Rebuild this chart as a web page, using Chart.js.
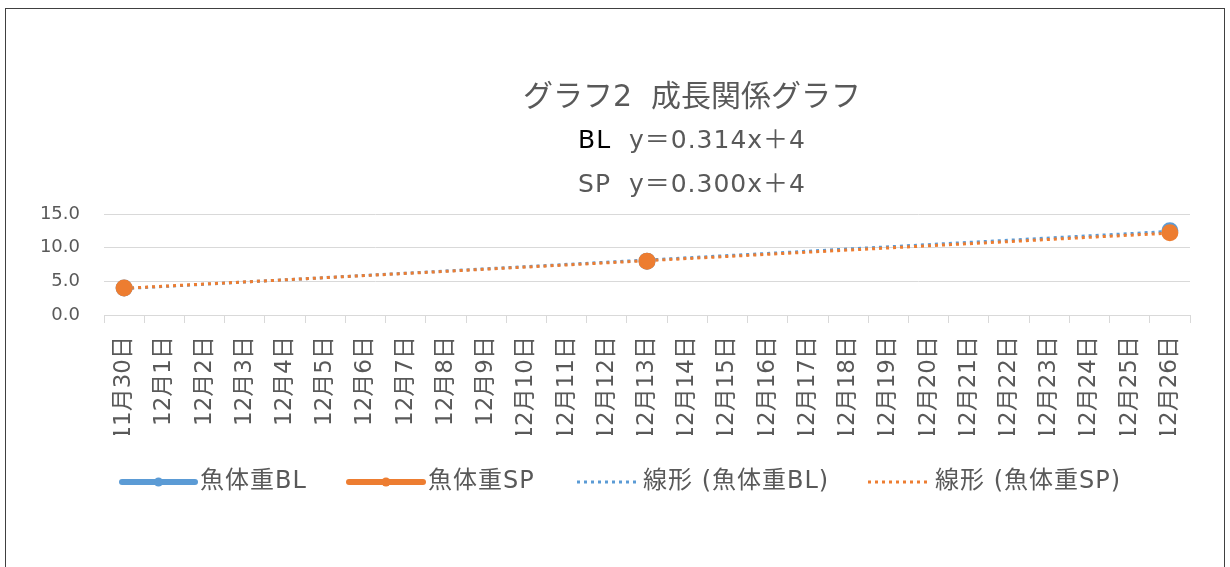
<!DOCTYPE html>
<html>
<head>
<meta charset="utf-8">
<script src="https://cdn.jsdelivr.net/npm/chart.js@4.4.1/dist/chart.umd.min.js"></script>
<style>
    html, body { margin: 0; padding: 0; background: #fff; }
    #wrap { position: relative; width: 1230px; height: 567px; overflow: hidden; }
    #frame { position: absolute; left: 5px; top: 8px; width: 1220px; height: 620px; border: 1px solid #404040; box-sizing: border-box; }
    canvas { position: absolute; left: 0; top: 0; }
</style>
</head>
<body>
<div id="wrap">
    <div id="frame"></div>
    <canvas id="chart" width="1230" height="567"></canvas>
</div>
<script>
const FONT = '"DejaVu Sans", "Noto Sans CJK JP", sans-serif'
const GREY = '#595959'

const categories = [
    '11月30日', '12月1日', '12月2日', '12月3日', '12月4日', '12月5日', '12月6日',
    '12月7日', '12月8日', '12月9日', '12月10日', '12月11日', '12月12日', '12月13日',
    '12月14日', '12月15日', '12月16日', '12月17日', '12月18日', '12月19日', '12月20日',
    '12月21日', '12月22日', '12月23日', '12月24日', '12月25日', '12月26日'
]

// only three measuring days, the rest are empty
const weightBL = [
    4.0, null, null, null, null, null, null, null, null, null, null, null, null, 8.0,
    null, null, null, null, null, null, null, null, null, null, null, null, 12.5
]
const weightSP = [
    4.0, null, null, null, null, null, null, null, null, null, null, null, null, 8.0,
    null, null, null, null, null, null, null, null, null, null, null, null, 12.2
]

const titleText = 'グラフ2  成長関係グラフ'
const equationBL = ['BL', '  y＝0.314x＋4']
const equationSP = 'SP  y＝0.300x＋4'

// least squares trendline over category index, like the spreadsheet does
function linearTrend(values) {
    const pts = []
    values.forEach((v, i) => { if (v !== null) pts.push([i + 1, v]) })
    const n = pts.length
    const mx = pts.reduce((s, p) => s + p[0], 0) / n
    const my = pts.reduce((s, p) => s + p[1], 0) / n
    let sxy = 0, sxx = 0
    pts.forEach(p => { sxy += (p[0] - mx) * (p[1] - my); sxx += (p[0] - mx) ** 2 })
    const slope = sxy / sxx
    const first = pts[0][0] - 1
    const last = pts[n - 1][0] - 1
    return values.map((v, i) => (i === first || i === last) ? my + slope * (i + 1 - mx) : null)
}

const trendBL = linearTrend(weightBL)
const trendSP = linearTrend(weightSP)

const legendItems = [
    { text: '魚体重BL', color: '#5b9bd5', dotted: false, x1: 122, x2: 195 },
    { text: '魚体重SP', color: '#ed7d31', dotted: false, x1: 349, x2: 423 },
    { text: '線形 (魚体重BL)', color: '#5b9bd5', dotted: true, x1: 577, x2: 638 },
    { text: '線形 (魚体重SP)', color: '#ed7d31', dotted: true, x1: 868, x2: 930 },
]

const decorations = {
    id: 'decorations',
    afterDraw(chart) {
        const ctx = chart.ctx
        ctx.save()
        ctx.textBaseline = 'middle'

        ctx.fillStyle = GREY
        ctx.textAlign = 'center'
        ctx.font = '30px ' + FONT
        ctx.fillText(titleText, 692, 98)

        ctx.font = '25px ' + FONT
        ctx.letterSpacing = '1px'
        ctx.textAlign = 'left'
        const wA = ctx.measureText(equationBL[0]).width
        const wB = ctx.measureText(equationBL[1]).width
        let x = 692 - (wA + wB) / 2
        ctx.fillStyle = '#000'
        ctx.fillText(equationBL[0], x, 141)
        ctx.fillStyle = GREY
        ctx.fillText(equationBL[1], x + wA, 141)

        ctx.textAlign = 'center'
        ctx.fillText(equationSP, 692, 185)

        // legend
        const ly = 482
        legendItems.forEach(item => {
            ctx.strokeStyle = item.color
            ctx.fillStyle = item.color
            if (item.dotted) {
                ctx.lineWidth = 3
                ctx.setLineDash([3, 4])
                ctx.lineCap = 'butt'
            } else {
                ctx.lineWidth = 6
                ctx.setLineDash([])
                ctx.lineCap = 'round'
            }
            ctx.beginPath()
            ctx.moveTo(item.x1, ly)
            ctx.lineTo(item.x2, ly)
            ctx.stroke()
            if (!item.dotted) {
                ctx.beginPath()
                ctx.arc((item.x1 + item.x2) / 2, ly, 4.5, 0, Math.PI * 2)
                ctx.fill()
            }
            ctx.fillStyle = GREY
            ctx.textAlign = 'left'
            ctx.font = '24px ' + FONT
            ctx.letterSpacing = '1px'
            ctx.fillText(item.text, item.x2 + 5, ly)
        })
        ctx.restore()
    }
}

new Chart(document.getElementById('chart'), {
    type: 'line',
    data: {
        labels: categories,
        datasets: [
            {
                label: '魚体重BL', data: weightBL, borderColor: '#5b9bd5', backgroundColor: '#5b9bd5',
                borderWidth: 3, pointRadius: 7, spanGaps: false, order: 1
            },
            {
                label: '魚体重SP', data: weightSP, borderColor: '#ed7d31', backgroundColor: '#ed7d31',
                borderWidth: 3, pointRadius: 7, spanGaps: false, order: 0
            },
            {
                label: '線形 (魚体重BL)', data: trendBL, borderColor: '#5b9bd5',
                borderWidth: 3, borderDash: [3, 4], pointRadius: 0, spanGaps: true, order: 3
            },
            {
                label: '線形 (魚体重SP)', data: trendSP, borderColor: '#ed7d31',
                borderWidth: 3, borderDash: [3, 4], pointRadius: 0, spanGaps: true, order: 2
            },
        ]
    },
    options: {
        responsive: false,
        animation: false,
        layout: { padding: { top: 214, right: 40, bottom: 132, left: 0 } },
        plugins: {
            legend: { display: false },
            title: { display: false },
            tooltip: { enabled: false },
        },
        scales: {
            x: {
                offset: true,
                grid: { offset: true, drawOnChartArea: false, tickLength: 8, color: '#d9d9d9' },
                border: { color: '#d9d9d9' },
                ticks: {
                    autoSkip: false, minRotation: 90, maxRotation: 90, padding: 13,
                    color: GREY, font: { size: 23, family: FONT }
                },
                afterFit(scale) { scale.height = 120 }
            },
            y: {
                min: 0, max: 15,
                grid: { color: '#d9d9d9', drawTicks: false },
                border: { display: false },
                ticks: {
                    stepSize: 5, padding: 24, color: GREY, font: { size: 18, family: FONT },
                    callback: v => v.toFixed(1)
                },
                afterFit(scale) { scale.width = 104 }
            }
        }
    },
    plugins: [decorations]
})
</script>
</body>
</html>
